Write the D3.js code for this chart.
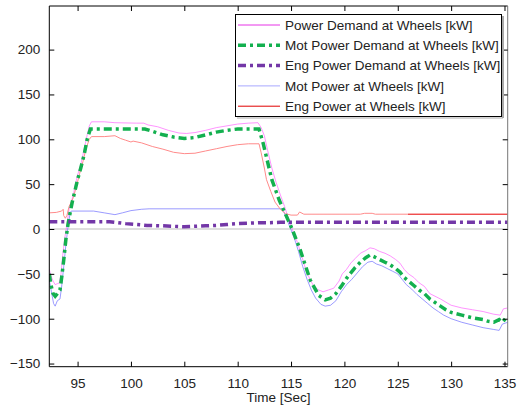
<!DOCTYPE html>
<html>
<head>
<meta charset="utf-8">
<script src="https://d3js.org/d3.v7.min.js"></script>
<style>
  body { margin: 0; background: #fff; }
  text { font-family: "Liberation Sans", Arial, sans-serif; fill: #222; }
</style>
</head>
<body>
<div id="chart"></div>
<script>
// Power Demand at Wheels [kW]
var demT = [92.35, 92.5, 92.7, 92.9, 93.1, 93.3, 93.45, 93.6, 93.8, 94.0, 94.2, 94.4, 94.6, 94.8, 95.0, 95.3, 95.6, 95.9, 96.1, 96.3, 97.5, 98.5, 100.5, 101.2, 101.6, 102.5, 103.5, 104.5, 105.2, 106, 107, 108, 109, 110, 111, 111.9, 112.2, 112.5, 112.8, 113.2, 113.6, 114.0, 114.4, 114.8, 115.2, 115.6, 116.0, 116.4, 116.8, 117.2, 117.6, 118.0, 118.5, 119.0, 119.5, 119.8, 120.2, 120.6, 121.0, 121.5, 122.0, 122.4, 122.8, 123.3, 123.8, 124.3, 124.8, 125.2, 125.6, 126.0, 126.5, 127.0, 127.5, 128, 129, 130, 131, 132, 133, 134, 134.6, 134.9, 135.3];
var demV = [-45, -52, -58, -62, -61, -60, -50, -30, -10, 5, 22, 30, 38, 50, 60, 72, 88, 105, 115, 119.5, 119.5, 118.5, 118, 118, 116, 114, 110, 107, 106.5, 107.5, 110, 113, 115, 117, 118, 118.5, 113, 104, 88, 68, 52, 38, 25, 10, -3, -15, -30, -46, -57, -65, -68, -70, -68, -66, -58, -50, -45, -38, -33, -27, -24, -21, -22, -25, -27, -30, -34, -38, -45, -50, -54, -60, -64, -72, -78, -85, -88, -90, -92, -95, -96, -89, -88];

// Mot Power Demand at Wheels [kW]
var motDemT = [92.35, 92.5, 92.7, 92.9, 93.1, 93.35, 93.5, 93.7, 93.9, 94.1, 94.3, 94.5, 94.8, 95.0, 95.3, 95.6, 95.9, 96.2, 101.3, 102, 103, 104, 105, 106, 107, 108, 109, 110, 112, 112.4, 112.8, 113.2, 113.9, 115.1, 115.85, 116.8, 117.6, 118.2, 118.7, 119.2, 119.7, 120.2, 120.6, 121.0, 121.5, 122.0, 122.4, 122.8, 123.3, 123.8, 124.3, 124.8, 125.2, 125.6, 126.0, 126.5, 127.0, 127.5, 128.0, 128.5, 129.0, 129.5, 130, 131, 132, 133, 133.5, 134, 134.5, 134.8, 135.3];
var motDemV = [-50, -62, -72, -75, -72, -68, -55, -35, -12, 5, 18, 30, 45, 55, 68, 82, 100, 111.5, 111.5, 109, 105, 102.5, 101, 102, 105, 108, 110, 111.5, 111.5, 95, 75, 55, 32, 0, -23, -57, -74, -79, -77, -72, -64, -55, -49, -43, -37, -32, -29, -31, -34, -37, -40, -44, -48, -54, -58, -63, -68, -72, -78, -82, -86, -90, -93, -96, -99, -101, -103, -104, -101, -104, -97];

// Eng Power Demand at Wheels [kW]
var engDemT = [92.35, 98, 98.8, 99.5, 100.5, 101.5, 103, 104, 105, 106, 107, 108, 109, 110, 111, 112, 113, 114, 135.3];
var engDemV = [8, 8, 7, 6, 5, 4, 3.5, 3, 2.5, 3, 3.5, 4, 5, 6, 6.5, 7, 7, 7.5, 7.5];

// Mot Power at Wheels [kW]
var motT = [92.35, 92.55, 92.75, 92.9, 93.1, 93.35, 93.5, 93.7, 93.9, 94.1, 94.3, 94.4, 96.5, 97.5, 98.5, 99.2, 100, 101, 101.7, 114.2, 114.5, 114.9, 115.3, 115.7, 116.1, 116.5, 116.9, 117.3, 117.8, 118.2, 118.7, 119.2, 119.7, 120.2, 120.7, 121.2, 121.7, 122.2, 122.6, 123.0, 123.5, 124.0, 124.5, 125.0, 125.4, 125.8, 126.3, 126.8, 127.3, 127.8, 128.3, 128.8, 129.3, 130, 131, 132, 133, 134, 134.5, 134.8, 135.3];
var motV = [-57, -70, -83, -86, -80, -78, -65, -42, -18, 2, 18, 20, 20, 18, 16, 18, 20.5, 22, 22.5, 22.5, 14, 2, -10, -25, -42, -56, -68, -77, -84, -86, -85, -80, -70, -62, -56, -49, -42, -37, -36, -39, -41, -44, -47, -50, -56, -62, -67, -73, -78, -83, -88, -92, -96, -100, -104, -107, -110, -112, -113, -106, -104];

// Eng Power at Wheels [kW]
var engT = [92.35, 93.0, 93.5, 93.65, 93.7, 93.85, 94.0, 94.2, 94.4, 94.6, 94.9, 95.2, 95.5, 95.8, 96.1, 96.3, 97.5, 98.5, 99.0, 99.5, 100, 100.2, 101, 102, 103, 104, 105, 106, 107, 108, 109, 110, 111, 112, 112.2, 112.5, 112.7, 113.1, 113.5, 114.0, 114.5, 115.0, 115.6, 115.8, 116.2, 121.5, 121.9, 122.6, 122.9, 135.3];
var engV = [18, 18.5, 20, 22, 15, 12, 15, 25, 30, 35, 48, 62, 75, 90, 100, 103, 103, 104, 101, 99, 97, 98, 96, 92, 89, 85.5, 84, 84.5, 87, 89.5, 92, 94, 95, 95, 85, 68, 55, 42, 30, 22, 17, 15.5, 15.5, 19, 16.5, 16.5, 17.5, 17.5, 16.5, 16.5];

var xTicks = [95, 100, 105, 110, 115, 120, 125, 130, 135];
var yTicks = [-150, -100, -50, 0, 50, 100, 150, 200];
var legendNames = ["Power Demand at Wheels [kW]", "Mot Power Demand at Wheels [kW]", "Eng Power Demand at Wheels [kW]", "Mot Power at Wheels [kW]", "Eng Power at Wheels [kW]"];

var W = 518, H = 406;
var L = 49.3, R = 507.7, T = 6, B = 366.7;
var FS = 13.5;

var svg = d3.select("#chart").append("svg")
  .attr("width", W).attr("height", H);

var x = d3.scaleLinear().domain([92.35, 135.3]).range([L, R]);
var y = d3.scaleLinear().domain([-153.5, 248.6]).range([B, T]);

var defs = svg.append("defs");
defs.append("clipPath").attr("id", "plotclip")
  .append("rect").attr("x", L).attr("y", T).attr("width", R - L).attr("height", B - T);

// eng power line turns solid red near the end, as in the reference render
var off = (x(126) - L) / (R - L);
var grad = defs.append("linearGradient").attr("id", "engred")
  .attr("gradientUnits", "userSpaceOnUse")
  .attr("x1", L).attr("x2", R).attr("y1", 0).attr("y2", 0);
grad.append("stop").attr("offset", off).attr("stop-color", "#ff8a8a");
grad.append("stop").attr("offset", off).attr("stop-color", "#e80000");

// zero line
svg.append("line")
  .attr("x1", L).attr("x2", R)
  .attr("y1", y(0)).attr("y2", y(0))
  .attr("stroke", "#bdbdbd").attr("stroke-width", 1);

var series = [
  {t: demT, v: demV, color: "#ff66ff", op: 0.7, w: 1, dash: null, lc: "#e633e6"},
  {t: motDemT, v: motDemV, color: "#13b04f", op: 1, w: 3.5, dash: "8,4,3,4", lc: "#13b04f"},
  {t: engDemT, v: engDemV, color: "#7337a7", op: 1, w: 3.5, dash: "8,4,3,4", lc: "#7337a7"},
  {t: motT, v: motV, color: "#7a7aff", op: 0.75, w: 1, dash: null, lc: "#a8a8ff"},
  {t: engT, v: engV, color: "url(#engred)", op: 1, w: 1, dash: null, lc: "#e00000"}
];

var line = d3.line().x(function(d) { return x(d[0]); }).y(function(d) { return y(d[1]); });

// thin lines first, thick dash-dots on top
var order = [0, 3, 4, 1, 2];
order.forEach(function(i) {
  var s = series[i];
  var pts = s.t.map(function(t, j) { return [t, s.v[j]]; });
  svg.append("path")
    .attr("clip-path", "url(#plotclip)")
    .attr("d", line(pts))
    .attr("fill", "none")
    .attr("stroke", s.color)
    .attr("stroke-opacity", s.op)
    .attr("stroke-width", s.w)
    .attr("stroke-dasharray", s.dash);
});

// frame
svg.append("line").attr("x1", L).attr("x2", R).attr("y1", T).attr("y2", T).attr("stroke", "#000");
svg.append("line").attr("x1", L).attr("x2", R).attr("y1", B).attr("y2", B).attr("stroke", "#000");
svg.append("line").attr("x1", L).attr("x2", L).attr("y1", T).attr("y2", B).attr("stroke", "#000");
svg.append("line").attr("x1", R).attr("x2", R).attr("y1", T).attr("y2", B).attr("stroke", "#777");

// axes with inward ticks
var tk = 5;
svg.append("g").attr("transform", "translate(0," + B + ")")
  .call(d3.axisBottom(x).tickValues(xTicks).tickSizeInner(-tk).tickSizeOuter(0).tickPadding(tk + 7))
  .call(function(g) { g.select(".domain").remove(); });
svg.append("g").attr("transform", "translate(0," + T + ")")
  .call(d3.axisTop(x).tickValues(xTicks).tickSizeInner(-tk).tickSizeOuter(0).tickFormat(""))
  .call(function(g) { g.select(".domain").remove(); });
svg.append("g").attr("transform", "translate(" + L + ",0)")
  .call(d3.axisLeft(y).tickValues(yTicks).tickSizeInner(-tk).tickSizeOuter(0).tickPadding(tk + 4))
  .call(function(g) { g.select(".domain").remove(); });
svg.append("g").attr("transform", "translate(" + R + ",0)")
  .call(d3.axisRight(y).tickValues(yTicks).tickSizeInner(-tk).tickSizeOuter(0).tickFormat(""))
  .call(function(g) { g.select(".domain").remove(); });

svg.selectAll(".tick text").attr("font-size", FS).attr("font-family", "Liberation Sans, Arial, sans-serif").attr("fill", "#222");
svg.selectAll(".tick line").attr("stroke", "#000");

svg.append("text")
  .attr("x", (L + R) / 2).attr("y", 402)
  .attr("text-anchor", "middle")
  .attr("font-size", FS)
  .text("Time [Sec]");

// legend
var lg = svg.append("g");
lg.append("line").attr("x1", 503).attr("x2", 503).attr("y1", 16).attr("y2", 118).attr("stroke", "#aaa").attr("stroke-width", 2);
lg.append("line").attr("x1", 237).attr("x2", 503).attr("y1", 118).attr("y2", 118).attr("stroke", "#aaa").attr("stroke-width", 1);
lg.append("rect").attr("x", 235.5).attr("y", 14.5).attr("width", 266).attr("height", 102)
  .attr("fill", "#fff").attr("stroke", "#000");

legendNames.forEach(function(name, i) {
  var s = series[i];
  var ly = 25 + i * 20.3;
  lg.append("line")
    .attr("x1", 238).attr("x2", 280).attr("y1", ly).attr("y2", ly)
    .attr("stroke", s.lc).attr("stroke-width", s.w)
    .attr("stroke-dasharray", s.dash);
  lg.append("text")
    .attr("x", 285).attr("y", ly + 4.8)
    .attr("font-size", FS)
    .text(name);
});
</script>
</body>
</html>
